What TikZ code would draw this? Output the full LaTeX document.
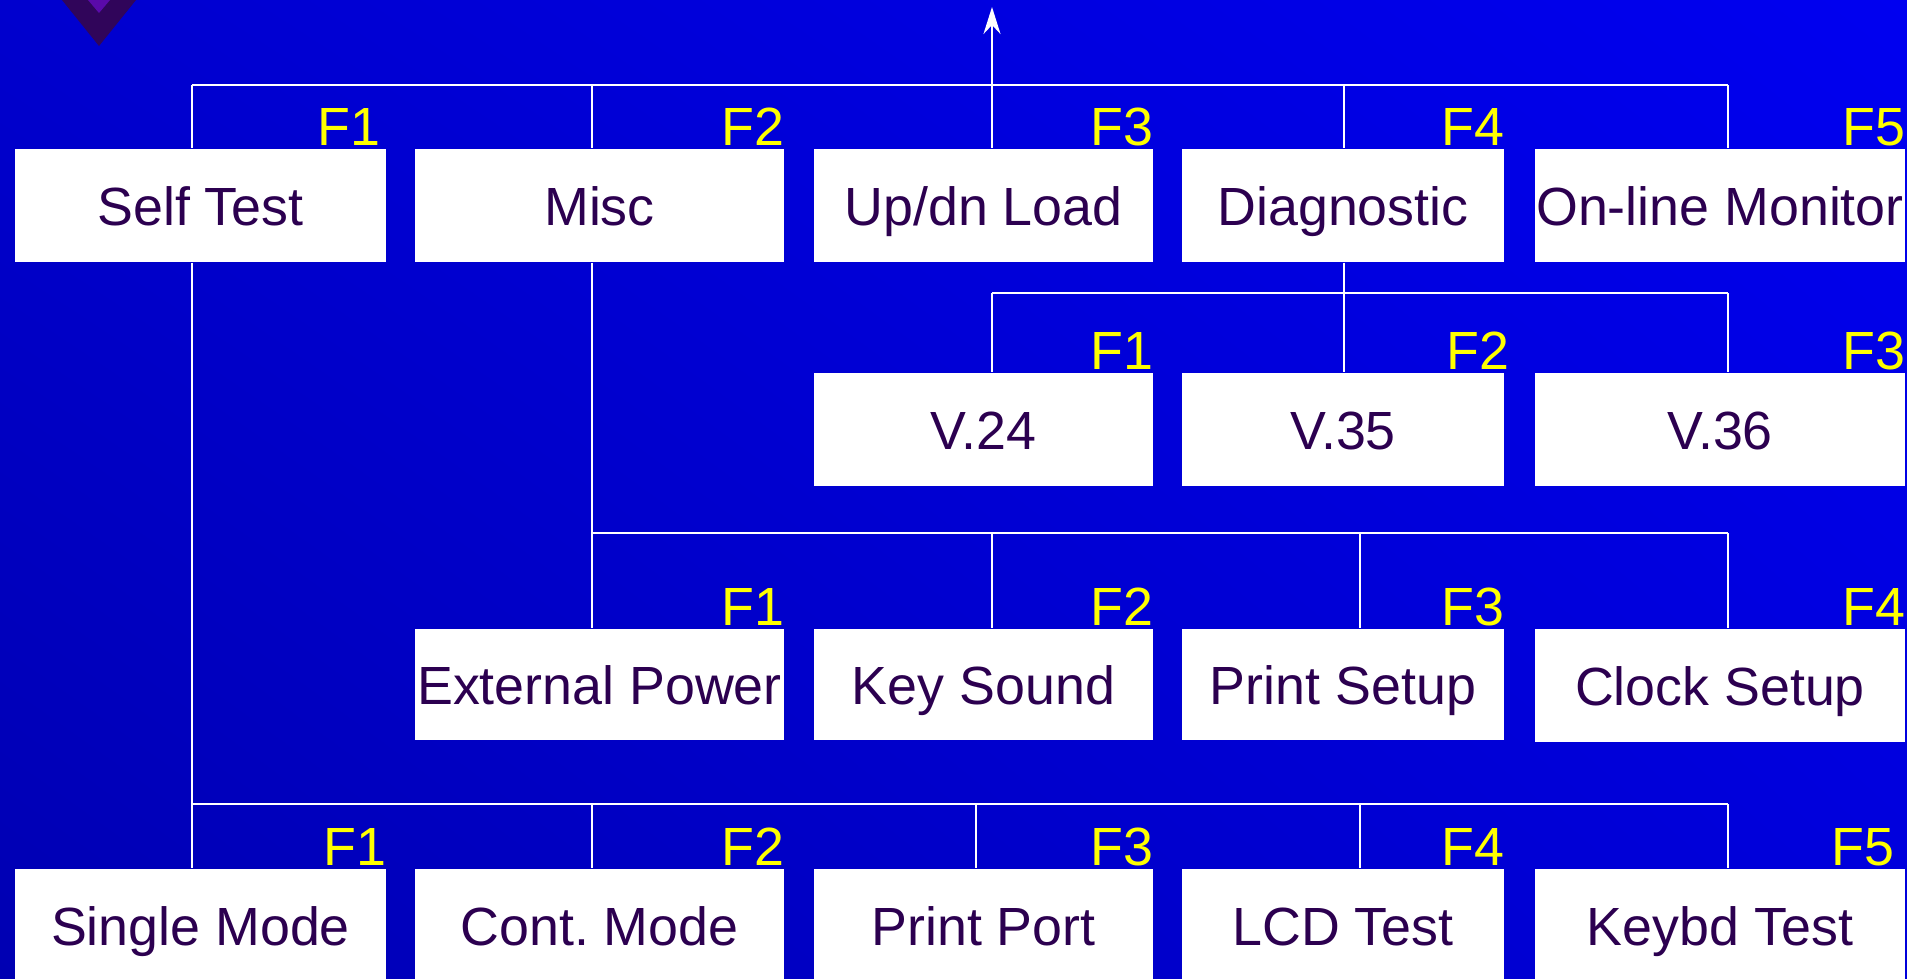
\documentclass[tikz,border=0pt]{standalone}
\usepackage{fontspec}
\setmainfont{Liberation Sans}
\usetikzlibrary{arrows.meta,positioning,calc,shadings}
\usepackage{xcolor}
\definecolor{bgul}{RGB}{0,0,206}
\definecolor{bgur}{RGB}{0,0,240}
\definecolor{bgll}{RGB}{0,0,178}
\definecolor{bglr}{RGB}{0,0,218}
\definecolor{ink}{HTML}{2C0050}
\definecolor{fkey}{HTML}{FFFF00}
\definecolor{logodark}{HTML}{30055A}
\definecolor{logolight}{HTML}{5A0AAA}
\tikzset{
  every node/.style={font=\fontsize{15.3}{18}\selectfont\frenchspacing},
  menubox/.style={fill=white,text=ink,minimum height=11.3mm,inner sep=0pt,align=center,text height=3.9mm,text depth=0mm},
  fkeylabel/.style={text=fkey,anchor=base east,inner sep=0pt,yshift=0.3mm},
  wire/.style={draw=white,line width=0.65pt},
}
\begin{document}
\begin{tikzpicture}[x=1cm,y=1cm]
  \useasboundingbox (0,0) rectangle (19.07,-9.78);
  \shade[upper left=bgul,upper right=bgur,lower left=bgll,lower right=bglr] (0,0) rectangle (19.07,-9.78);

  % logo, cut at the top edge
  \fill[logodark] (0.62,0) -- (1.36,0) -- (0.99,-0.46) -- cycle;
  \fill[logolight] (0.88,0) -- (1.10,0) -- (0.99,-0.13) -- cycle;

  % main menu
  \node[menubox,minimum width=37.1mm] (self) at (2.005,-2.055) {Self Test};
  \node[menubox,minimum width=36.9mm] (misc) at (5.995,-2.055) {Misc};
  \node[menubox,minimum width=33.9mm] (updn) at (9.835,-2.055) {Up/dn Load};
  \node[menubox,minimum width=32.2mm] (diag) at (13.43,-2.055) {Diagnostic};
  \node[menubox,minimum width=37.0mm] (monitor) at (17.20,-2.055) {On-line Monitor};

  % diagnostic menu
  \node[menubox,minimum width=33.9mm] (v24) at (9.835,-4.295) {V.24};
  \node[menubox,minimum width=32.2mm] (v35) at (13.43,-4.295) {V.35};
  \node[menubox,minimum width=37.0mm] (v36) at (17.20,-4.295) {V.36};

  % misc menu
  \node[menubox,minimum width=36.9mm,minimum height=11.1mm] (extpower) at (5.995,-6.845) {External Power};
  \node[menubox,minimum width=33.9mm,minimum height=11.1mm] (keysound) at (9.835,-6.845) {Key Sound};
  \node[menubox,minimum width=32.2mm,minimum height=11.1mm] (printsetup) at (13.43,-6.845) {Print Setup};
  \node[menubox,minimum width=37.0mm,minimum height=11.3mm] (clocksetup) at (17.20,-6.855) {Clock Setup};

  % self test menu
  \node[menubox,minimum width=37.1mm] (single) at (2.005,-9.255) {Single Mode};
  \node[menubox,minimum width=36.9mm] (cont) at (5.995,-9.255) {Cont. Mode};
  \node[menubox,minimum width=33.9mm] (printport) at (9.835,-9.255) {Print Port};
  \node[menubox,minimum width=32.2mm] (lcd) at (13.43,-9.255) {LCD Test};
  \node[menubox,minimum width=37.0mm] (keybd) at (17.20,-9.255) {Keybd Test};

  % function keys
  \node[fkeylabel,xshift=-0.6mm] (k-self) at (self.north east) {F1};
  \node[fkeylabel] (k-misc) at (misc.north east) {F2};
  \node[fkeylabel] (k-updn) at (updn.north east) {F3};
  \node[fkeylabel] (k-diag) at (diag.north east) {F4};
  \node[fkeylabel] (k-monitor) at (monitor.north east) {F5};
  \node[fkeylabel] (k-v24) at (v24.north east) {F1};
  \node[fkeylabel,xshift=0.5mm] (k-v35) at (v35.north east) {F2};
  \node[fkeylabel] (k-v36) at (v36.north east) {F3};
  \node[fkeylabel] (k-extpower) at (extpower.north east) {F1};
  \node[fkeylabel] (k-keysound) at (keysound.north east) {F2};
  \node[fkeylabel] (k-printsetup) at (printsetup.north east) {F3};
  \node[fkeylabel] (k-clocksetup) at (clocksetup.north east) {F4};
  \node[fkeylabel] (k-single) at (single.north east) {F1};
  \node[fkeylabel] (k-cont) at (cont.north east) {F2};
  \node[fkeylabel] (k-printport) at (printport.north east) {F3};
  \node[fkeylabel] (k-lcd) at (lcd.north east) {F4};
  \node[fkeylabel,xshift=-1.1mm] (k-keybd) at (keybd.north east) {F5};

  % buses
  \coordinate (t1) at (1.92,-0.85);
  \coordinate (t2) at (5.92,-0.85);
  \coordinate (t3) at (9.92,-0.85);
  \coordinate (t4) at (13.44,-0.85);
  \coordinate (t5) at (17.28,-0.85);
  \coordinate (up) at (9.92,-0.07);
  \draw[wire] (t1) -- (t5);
  \foreach \c/\n in {t1/self,t2/misc,t3/updn,t4/diag,t5/monitor}
    \draw[wire] (\c) -- (\c |- \n.north);
  \draw[wire,-{Stealth[length=2.7mm,width=1.7mm,inset=0.9mm]}] (t3) -- (up);

  \coordinate (d1) at (9.92,-2.93);
  \coordinate (d3) at (17.28,-2.93);
  \draw[wire] (t4 |- diag.south) -- (t4 |- v35.north);
  \draw[wire] (d1) -- (d3);
  \draw[wire] (d1) -- (d1 |- v24.north);
  \draw[wire] (d3) -- (d3 |- v36.north);

  \coordinate (m1) at (5.92,-5.33);
  \coordinate (m2) at (9.92,-5.33);
  \coordinate (m3) at (13.60,-5.33);
  \coordinate (m4) at (17.28,-5.33);
  \draw[wire] (m1 |- misc.south) -- (m1 |- extpower.north);
  \draw[wire] (m1) -- (m4);
  \foreach \c/\n in {m2/keysound,m3/printsetup,m4/clocksetup}
    \draw[wire] (\c) -- (\c |- \n.north);

  \coordinate (s1) at (1.92,-8.04);
  \coordinate (s2) at (5.92,-8.04);
  \coordinate (s3) at (9.76,-8.04);
  \coordinate (s4) at (13.60,-8.04);
  \coordinate (s5) at (17.28,-8.04);
  \draw[wire] (s1 |- self.south) -- (s1 |- single.north);
  \draw[wire] (s1) -- (s5);
  \foreach \c/\n in {s2/cont,s3/printport,s4/lcd,s5/keybd}
    \draw[wire] (\c) -- (\c |- \n.north);
\end{tikzpicture}
\end{document}
